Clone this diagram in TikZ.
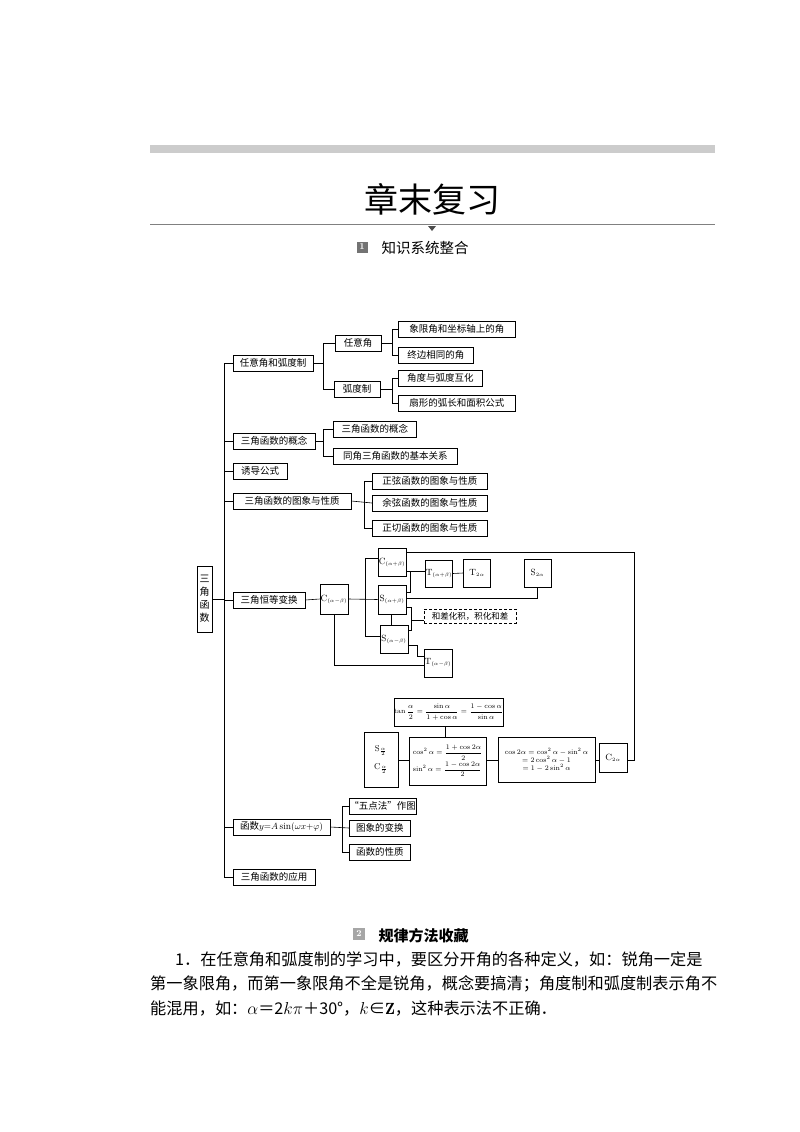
\documentclass[tikz,border=0pt]{standalone}
\usepackage{fontspec}
\usepackage{amsmath,amssymb}
\newfontfamily\cjk{Noto Sans CJK SC}
\newcommand{\sbs}[1]{$_{\scriptscriptstyle #1}$}
\begin{document}
\begin{tikzpicture}[x=1pt,y=-1pt,
  bx/.style={draw,line width=0.6pt,inner sep=0pt,minimum height=16,font=\cjk\fontsize{9.5}{11}\selectfont},
  sq/.style={draw,line width=0.6pt,inner sep=0pt,font=\fontsize{9}{10}\selectfont},
  ln/.style={line width=0.6pt}]
\useasboundingbox (0,0) rectangle (800,1132);
% header
\fill[gray!40] (150,145) rectangle (715,153);
\node[font=\cjk\fontsize{34}{36}\selectfont] (title) at (432,199) {章末复习};
\draw[gray,line width=0.6pt] (150,224) -- (715,224);
\fill[black!70] (428,226) -- (436,226) -- (432,231) -- cycle;
\node[fill=black!55,minimum width=11,minimum height=11,inner sep=0pt,text=white,font=\bfseries\fontsize{9}{9}\selectfont] (i1) at (362,247) {1};
\node[anchor=west,font=\cjk\fontsize{14.5}{16}\selectfont] (h1) at (378,248) {知识系统整合};
% root
\node[bx,minimum width=15,minimum height=66,align=center,font=\cjk\fontsize{10}{13}\selectfont] (root) at (204.5,599) {三\\角\\函\\数};
\coordinate (bt) at (224,363); \coordinate (bb) at (224,877);
\draw[ln] (bt) -- (bb);
\draw[ln] (root.east) -- (224,599);
% level 1
\node[bx,minimum width=80] (a1) at (273,363) {任意角和弧度制};
\node[bx,minimum width=82] (a2) at (274,441) {三角函数的概念};
\node[bx,minimum width=54] (a3) at (260,471) {诱导公式};
\node[bx,minimum width=118] (a4) at (292,501) {三角函数的图象与性质};
\node[bx,minimum width=72] (a5) at (269,600) {三角恒等变换};
\node[bx,minimum width=97] (a6) at (281.5,827) {函数$y{=}A\sin(\omega x{+}\varphi)$};
\node[bx,minimum width=82] (a7) at (274,877) {三角函数的应用};
\foreach \n in {a1,a2,a3,a4,a5,a6,a7} \draw[ln] (\n.west) -- (\n.west -| bt);
% level 2 of a1
\node[bx,minimum width=46] (b1) at (358,343) {任意角};
\node[bx,minimum width=46] (b2) at (357,389) {弧度制};
\draw[ln] (a1.east) -- (323,363);
\draw[ln] (b1.west) -| (323,389) -- (b2.west);
\node[bx,minimum width=117,anchor=west] (c1) at (398,329) {象限角和坐标轴上的角};
\node[bx,minimum width=75,anchor=west] (c2) at (398,355) {终边相同的角};
\node[bx,minimum width=84,anchor=west] (c3) at (398,378) {角度与弧度互化};
\node[bx,minimum width=117,anchor=west] (c4) at (398,403) {扇形的弧长和面积公式};
\draw[ln] (b1.east) -- (392,343);
\draw[ln] (c1.west) -| (392,355) -- (c2.west);
\draw[ln] (b2.east) -- (392,389);
\draw[ln] (c3.west) -| (392,403) -- (c4.west);
% a2 children
\node[bx,minimum width=83,anchor=west] (d1) at (333,429) {三角函数的概念};
\node[bx,minimum width=124,anchor=west] (d2) at (333,456) {同角三角函数的基本关系};
\draw[ln] (a2.east) -- (323,441);
\draw[ln] (d1.west) -| (323,456) -- (d2.west);
% a4 children
\node[bx,minimum width=115,anchor=west] (e1) at (372,481) {正弦函数的图象与性质};
\node[bx,minimum width=115,anchor=west] (e2) at (372,503) {余弦函数的图象与性质};
\node[bx,minimum width=115,anchor=west] (e3) at (372,528) {正切函数的图象与性质};
\draw[ln] (a4.east) -- (e2.west);
\draw[ln] (e1.west) -| (364,528) -- (e3.west);
% identities
\node[sq,minimum width=28,minimum height=30] (cmb) at (334,599) {C\sbs{(\alpha-\beta)}};
\node[sq,minimum width=28,minimum height=28] (cpb) at (392,562) {C\sbs{(\alpha+\beta)}};
\node[sq,minimum width=28,minimum height=29] (spb) at (392,599.5) {S\sbs{(\alpha+\beta)}};
\node[sq,minimum width=28,minimum height=28] (smb) at (394,639) {S\sbs{(\alpha-\beta)}};
\node[sq,minimum width=27,minimum height=27] (tpb) at (439,573.5) {T\sbs{(\alpha+\beta)}};
\node[sq,minimum width=27,minimum height=28] (t2a) at (477,573) {T\sbs{2\alpha}};
\node[sq,minimum width=27,minimum height=28] (s2a) at (537.5,573) {S\sbs{2\alpha}};
\node[sq,minimum width=28,minimum height=28] (tmb) at (438,663) {T\sbs{(\alpha-\beta)}};
\node[draw,densely dashed,line width=0.5pt,minimum width=92,minimum height=14,inner sep=0pt,font=\cjk\fontsize{8.5}{10}\selectfont] (hc) at (470,616) {和差化积，积化和差};
\draw[ln] (a5.east) -- (cmb.west);
\draw[ln] (cmb.east) -- (spb.west);
\draw[ln] (cpb.west |- 0,558) -- (365,558) -- (365,636) -- (smb.west |- 0,636);
\draw[ln] (cpb.east |- 0,571) -- (tpb.west |- 0,571);
\draw[ln] (410,571) -- (410,592) -- (spb.east |- 0,592);
\draw[ln] (tpb.east) -- (t2a.west);
\draw[ln] (s2a.south) |- (spb.east |- 0,598);
\draw[ln] (spb.east |- 0,607) -- (411,607) -- (411,630) -- (smb.east |- 0,630);
\draw[ln] (411,620) -- (hc.west |- 0,620);
\draw[ln] (391,614) -- (391,625);
\draw[ln] (cmb.south -| 334,0) |- (tmb.west |- 0,665);
\draw[ln] (smb.east |- 0,645) -- (417,645) -- (417,656) -- (tmb.west |- 0,656);
% lower cluster
\node[sq,minimum width=101,minimum height=28,font=\fontsize{7}{8}\selectfont] (tan) at (448.5,712)
  {$\tan\dfrac{\alpha}{2}=\dfrac{\sin\alpha}{1+\cos\alpha}=\dfrac{1-\cos\alpha}{\sin\alpha}$};
\node[sq,minimum width=34,minimum height=55,align=center,font=\fontsize{8.5}{16}\selectfont] (half) at (381,759.5) {S$_{\frac{\alpha}{2}}$\\[2pt]C$_{\frac{\alpha}{2}}$};
\node[sq,minimum width=77,minimum height=48,align=left,font=\fontsize{7}{8}\selectfont] (sq2) at (447.5,761)
  {$\cos^2\alpha=\dfrac{1+\cos2\alpha}{2}$\\[1pt]$\sin^2\alpha=\dfrac{1-\cos2\alpha}{2}$};
\node[sq,minimum width=97,minimum height=45,align=center,font=\fontsize{7}{8}\selectfont] (c2a) at (546.5,759.5)
  {$\cos2\alpha=\cos^2\alpha-\sin^2\alpha$\\$=2\cos^2\alpha-1$\\$=1-2\sin^2\alpha$};
\node[sq,minimum width=28,minimum height=29] (cc2a) at (613,757.5) {C\sbs{2\alpha}};
\draw[ln] (tan.south -| 445,0) -- (sq2.north -| 445,0);
\draw[ln] (half.east |- 0,760) -- (sq2.west |- 0,760);
\draw[ln] (sq2.east |- 0,760) -- (c2a.west |- 0,760);
\draw[ln] (c2a.east |- 0,760) -- (cc2a.west |- 0,760);
\draw[ln] (cpb.east |- 0,552) -- (634,552) -- (634,760) -- (cc2a.east |- 0,760);
% a6 children
\node[bx,minimum width=53,anchor=west] (f1) at (349,806) {“五点法”作图};
\node[bx,minimum width=61,anchor=west] (f2) at (349,828) {图象的变换};
\node[bx,minimum width=61,anchor=west] (f3) at (349,852) {函数的性质};
\draw[ln] (a6.east) -- (f2.west);
\draw[ln] (f1.west) -| (342,852) -- (f3.west);
% bottom text
\node[fill=black!35,minimum width=12,minimum height=12,inner sep=0pt,text=white,font=\bfseries\fontsize{9}{9}\selectfont] (i2) at (359,934) {2};
\node[anchor=west,font=\cjk\bfseries\fontsize{15}{17}\selectfont] (h2) at (375,936) {规律方法收藏};
\node[anchor=west,inner sep=0pt,font=\cjk\fontsize{16.2}{18}\selectfont] (p1) at (175,959) {1．在任意角和弧度制的学习中，要区分开角的各种定义，如：锐角一定是};
\node[anchor=west,inner sep=0pt,font=\cjk\fontsize{16.2}{18}\selectfont] (p2) at (150,984) {第一象限角，而第一象限角不全是锐角，概念要搞清；角度制和弧度制表示角不};
\node[anchor=west,inner sep=0pt,font=\cjk\fontsize{16.2}{18}\selectfont] (p3) at (150,1009) {能混用，如：$\alpha$＝2$k\pi$＋30°，$k$∈$\mathbf{Z}$，这种表示法不正确．};
\end{tikzpicture}
\end{document}
